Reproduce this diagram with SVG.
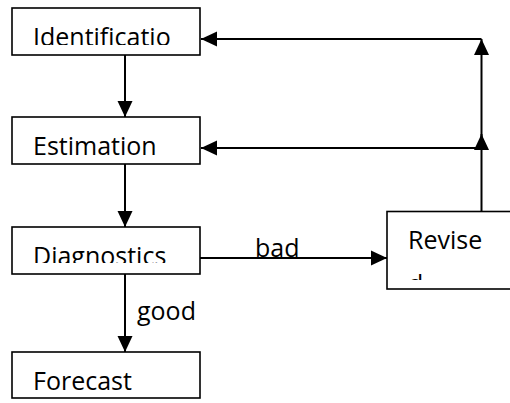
<svg xmlns="http://www.w3.org/2000/svg" width="510" height="403" viewBox="0 0 510 403">
<style>
.box{fill:#fff;stroke:#000;stroke-width:1.6}
.lbl{font-family:"Open Sans","Noto Sans",sans-serif;font-size:25px;fill:#000}
.edge{fill:none;stroke:#000;stroke-width:2}
</style>
<defs>
<marker id="ah" markerUnits="userSpaceOnUse" markerWidth="16" markerHeight="16" viewBox="0 0 16 16" refX="16" refY="8" orient="auto">
<polygon points="0,0.5 16,8 0,15.5" fill="#000"/>
</marker>
<clipPath id="c1"><rect x="12" y="8" width="188" height="37"/></clipPath>
<clipPath id="c2"><rect x="12" y="117" width="188" height="38"/></clipPath>
<clipPath id="c3"><rect x="12" y="227" width="188" height="36"/></clipPath>
<clipPath id="c4"><rect x="12" y="352" width="188" height="38"/></clipPath>
<clipPath id="c5"><rect x="387" y="211" width="130" height="69"/></clipPath>
</defs>
<g id="connectors">
<path class="edge" d="M125 55 L125 117" marker-end="url(#ah)"/>
<path class="edge" d="M125 164 L125 227" marker-end="url(#ah)"/>
<path class="edge" d="M125 274 L125 352" marker-end="url(#ah)"/>
<path class="edge" d="M200 258 L387 258" marker-end="url(#ah)"/>
<path class="edge" d="M481.5 211 L481.5 134" marker-end="url(#ah)"/>
<path class="edge" d="M481.5 148 L481.5 39" marker-end="url(#ah)"/>
<path class="edge" d="M481.5 148 L201 148" marker-end="url(#ah)"/>
<path class="edge" d="M481.5 39 L201 39" marker-end="url(#ah)"/>
<text class="lbl" x="137" y="320">good</text>
<text class="lbl" x="255" y="257">bad</text>
</g>
<g id="identification">
<rect class="box" x="12" y="8" width="188" height="47"/>
<text class="lbl" x="33" y="46" clip-path="url(#c1)">Identificatio</text>
</g>
<g id="estimation">
<rect class="box" x="12" y="117" width="188" height="47"/>
<text class="lbl" x="33" y="155" clip-path="url(#c2)">Estimation</text>
</g>
<g id="diagnostics">
<rect class="box" x="12" y="227" width="188" height="47"/>
<text class="lbl" x="33" y="265" clip-path="url(#c3)">Diagnostics</text>
</g>
<g id="forecast">
<rect class="box" x="12" y="352" width="188" height="46"/>
<text class="lbl" x="33" y="390" clip-path="url(#c4)">Forecast</text>
</g>
<g id="revised">
<rect class="box" x="387" y="211.5" width="140" height="77.5"/>
<text class="lbl" clip-path="url(#c5)"><tspan x="408" y="249">Revise</tspan><tspan x="408" y="293">d</tspan></text>
</g>
</svg>
